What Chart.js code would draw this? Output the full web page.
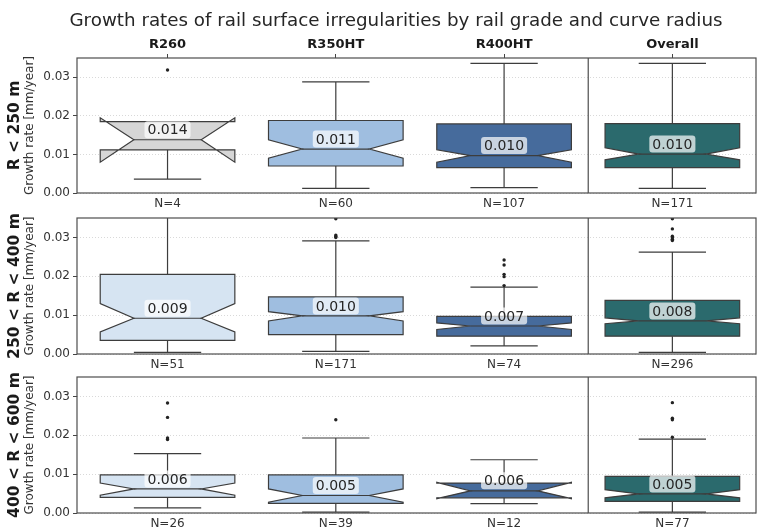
<!DOCTYPE html>
<html>
<head>
<meta charset="utf-8">
<script src="https://cdn.jsdelivr.net/npm/chart.js@4.4.1/dist/chart.umd.min.js"></script>
<style>
  body { margin: 0; background: #fff; }
  #wrap { position: relative; width: 760px; height: 527px; overflow: hidden; font-family: "DejaVu Sans", sans-serif; }
  .row { position: absolute; left: 0; top: 0; width: 760px; height: 527px; }
  #title { position: absolute; left: 0; top: 10px; width: 792px; text-align: center; font-size: 18.3px; line-height: 20px; color: #262626; }
</style>
</head>
<body>
<div id="wrap">
  <div class="row"><canvas id="c0"></canvas></div>
  <div class="row"><canvas id="c1"></canvas></div>
  <div class="row"><canvas id="c2"></canvas></div>
  <div id="title">Growth rates of rail surface irregularities by rail grade and curve radius</div>
</div>
<script>
// data, one row per curve radius class
const categories = ['R260', 'R350HT', 'R400HT', 'Overall'];
const rowLabels = ['R < 250 m', '250 < R < 400 m', '400 < R < 600 m'];
const yTicks = [0, 0.01, 0.02, 0.03];
const counts = [[4, 60, 107, 171], [51, 171, 74, 296], [26, 39, 12, 77]];
const medians = [[0.0138, 0.0114, 0.0097, 0.0101], [0.0092, 0.0098, 0.0072, 0.0085], [0.0062, 0.0045, 0.0057, 0.0049]];
const medianText = [['0.014', '0.011', '0.010', '0.010'], ['0.009', '0.010', '0.007', '0.008'], ['0.006', '0.005', '0.006', '0.005']];
const q1 = [[0.0112, 0.0070, 0.0066, 0.0066], [0.0035, 0.0050, 0.0046, 0.0046], [0.0040, 0.0025, 0.0039, 0.0030]];
const q3 = [[0.0185, 0.0188, 0.0179, 0.0180], [0.0205, 0.0147, 0.0097, 0.0138], [0.0098, 0.0098, 0.0077, 0.0094]];
const notchLo = [[0.0080, 0.0090, 0.0080, 0.0086], [0.0057, 0.0085, 0.0063, 0.0078], [0.0046, 0.0028, 0.0037, 0.0039]];
const notchHi = [[0.0195, 0.0138, 0.0112, 0.0117], [0.0130, 0.0109, 0.0080, 0.0093], [0.0077, 0.0062, 0.0079, 0.0060]];
const whiskerLo = [[0.0036, 0.0012, 0.0014, 0.0012], [0.0004, 0.0007, 0.0021, 0.0004], [0.0013, 0.0002, 0.0024, 0.0002]];
const whiskerHi = [[0.0185, 0.0288, 0.0336, 0.0336], [0.0400, 0.0291, 0.0172, 0.0262], [0.0153, 0.0193, 0.0137, 0.0190]];
const outliers = [
  [[0.0319], [], [], []],
  [[], [0.0300, 0.0303, 0.0306, 0.0348], [0.0176, 0.0199, 0.0205, 0.0229, 0.0242], [0.0292, 0.0295, 0.0299, 0.0303, 0.0322, 0.0348]],
  [[0.0189, 0.0193, 0.0246, 0.0283], [0.0240], [], [0.0195, 0.0240, 0.0244, 0.0284]]
];
const boxColors = [
  ['#d6d6d6', '#9fbee0', '#466b9c', '#2b6a6d'],
  ['#d6e4f2', '#9fbee0', '#466b9c', '#2b6a6d'],
  ['#d6e4f2', '#9fbee0', '#466b9c', '#2b6a6d']
];

// layout
const rowTop = [58, 218, 377];
const rowBottom = [193, 354, 513];
const topAxisH = 20, botAxisH = 20;
const lineCol = '#3d3d3d';

const boxPlugin = {
  id: 'boxes',
  beforeDatasetsDraw(chart) {
    const r = chart.options.plugins.boxes.row;
    const ctx = chart.ctx, xs = chart.scales.x, ys = chart.scales.y, a = chart.chartArea;
    ctx.save();
    ctx.beginPath();
    ctx.rect(a.left, a.top, a.right - a.left, a.bottom - a.top);
    ctx.clip();
    ctx.lineWidth = 1.2;
    ctx.strokeStyle = lineCol;
    categories.forEach((c, i) => {
      const px = v => xs.getPixelForValue(v);
      const py = v => ys.getPixelForValue(v);
      const L = px(i - 0.4), R = px(i + 0.4), wl = px(i - 0.2), wr = px(i + 0.2), cx = px(i);
      // whiskers
      ctx.beginPath();
      ctx.moveTo(cx, py(q3[r][i])); ctx.lineTo(cx, py(whiskerHi[r][i]));
      ctx.moveTo(cx, py(q1[r][i])); ctx.lineTo(cx, py(whiskerLo[r][i]));
      ctx.moveTo(wl, py(whiskerHi[r][i])); ctx.lineTo(wr, py(whiskerHi[r][i]));
      ctx.moveTo(wl, py(whiskerLo[r][i])); ctx.lineTo(wr, py(whiskerLo[r][i]));
      ctx.stroke();
      // notched box
      ctx.beginPath();
      ctx.moveTo(L, py(q1[r][i]));
      ctx.lineTo(R, py(q1[r][i]));
      ctx.lineTo(R, py(notchLo[r][i]));
      ctx.lineTo(wr, py(medians[r][i]));
      ctx.lineTo(R, py(notchHi[r][i]));
      ctx.lineTo(R, py(q3[r][i]));
      ctx.lineTo(L, py(q3[r][i]));
      ctx.lineTo(L, py(notchHi[r][i]));
      ctx.lineTo(wl, py(medians[r][i]));
      ctx.lineTo(L, py(notchLo[r][i]));
      ctx.closePath();
      ctx.fillStyle = boxColors[r][i];
      ctx.fill();
      ctx.stroke();
      ctx.beginPath();
      ctx.moveTo(wl, py(medians[r][i])); ctx.lineTo(wr, py(medians[r][i]));
      ctx.stroke();
    });
    ctx.restore();
  },
  afterDatasetsDraw(chart) {
    const r = chart.options.plugins.boxes.row;
    const ctx = chart.ctx, xs = chart.scales.x, ys = chart.scales.y, a = chart.chartArea;
    ctx.save();
    // median labels
    ctx.font = '14px "DejaVu Sans"';
    ctx.textAlign = 'center';
    ctx.textBaseline = 'middle';
    categories.forEach((c, i) => {
      const cx = xs.getPixelForValue(i);
      const cy = ys.getPixelForValue(medians[r][i]) - 10;
      const w = ctx.measureText(medianText[r][i]).width + 6, h = 17;
      ctx.fillStyle = 'rgba(255,255,255,0.7)';
      ctx.beginPath();
      ctx.roundRect(cx - w / 2, cy - h / 2, w, h, 3);
      ctx.fill();
      ctx.fillStyle = '#262626';
      ctx.fillText(medianText[r][i], cx, cy + 1);
    });
    // frame and divider before "Overall"
    ctx.strokeStyle = '#4d4d4d';
    ctx.lineWidth = 1.2;
    ctx.strokeRect(a.left, a.top, a.right - a.left, a.bottom - a.top);
    const dx = xs.getPixelForValue(2.5);
    ctx.beginPath(); ctx.moveTo(dx, a.top); ctx.lineTo(dx, a.bottom); ctx.stroke();
    // row labels
    const my = (a.top + a.bottom) / 2;
    ctx.fillStyle = '#1a1a1a';
    ctx.translate(15, my);
    ctx.rotate(-Math.PI / 2);
    ctx.font = 'bold 15.5px "DejaVu Sans"';
    ctx.fillText(rowLabels[r], 0, 0);
    ctx.font = '12px "DejaVu Sans"';
    ctx.fillStyle = '#333';
    ctx.fillText('Growth rate [mm/year]', 0, 15);
    ctx.restore();
  }
};

function makeRow(r) {
  const points = [];
  outliers[r].forEach((list, i) => list.forEach(v => points.push({ x: i, y: v })));
  const scales = {
    x: {
      type: 'linear', position: 'bottom', min: -0.538, max: 3.497,
      afterBuildTicks: s => { s.ticks = categories.map((c, i) => ({ value: i })); },
      afterFit: s => { s.height = botAxisH; },
      grid: { drawOnChartArea: false, drawTicks: false },
      border: { display: false },
      ticks: { autoSkip: false, maxRotation: 0, padding: 4, color: '#333',
        font: { family: 'DejaVu Sans', size: 12 },
        callback: (v, idx) => 'N=' + counts[r][idx] }
    },
    y: {
      min: 0, max: 0.035,
      afterBuildTicks: s => { s.ticks = yTicks.map(v => ({ value: v })); },
      afterFit: s => { s.width = 77; },
      grid: { color: '#d9d9d9', tickColor: '#444', tickLength: 4 },
      border: { display: false, dash: [1, 2] },
      ticks: { padding: 3, color: '#333', font: { family: 'DejaVu Sans', size: 12 },
        callback: v => v.toFixed(2) }
    }
  };
  if (r === 0) {
    scales.xTop = {
      type: 'linear', position: 'top', min: -0.538, max: 3.497,
      afterBuildTicks: s => { s.ticks = categories.map((c, i) => ({ value: i })); },
      afterFit: s => { s.height = topAxisH; },
      grid: { drawOnChartArea: false, tickLength: 4, tickColor: '#444' },
      border: { display: false },
      ticks: { autoSkip: false, maxRotation: 0, padding: 2, color: '#1a1a1a',
        font: { family: 'DejaVu Sans', size: 13, weight: 'bold' },
        callback: (v, idx) => categories[idx] }
    };
  }
  new Chart(document.getElementById('c' + r), {
    type: 'scatter',
    data: { datasets: [{ data: points, backgroundColor: '#222', borderWidth: 0, pointRadius: 1.7 }] },
    options: {
      responsive: true,
      maintainAspectRatio: false,
      animation: false,
      events: [],
      layout: { padding: { left: 0, right: 1,
        top: r === 0 ? rowTop[r] - topAxisH : rowTop[r],
        bottom: 527 - rowBottom[r] - botAxisH } },
      scales: scales,
      plugins: { legend: { display: false }, tooltip: { enabled: false }, boxes: { row: r } }
    },
    plugins: [boxPlugin]
  });
}

[0, 1, 2].forEach(makeRow);
</script>
</body>
</html>
